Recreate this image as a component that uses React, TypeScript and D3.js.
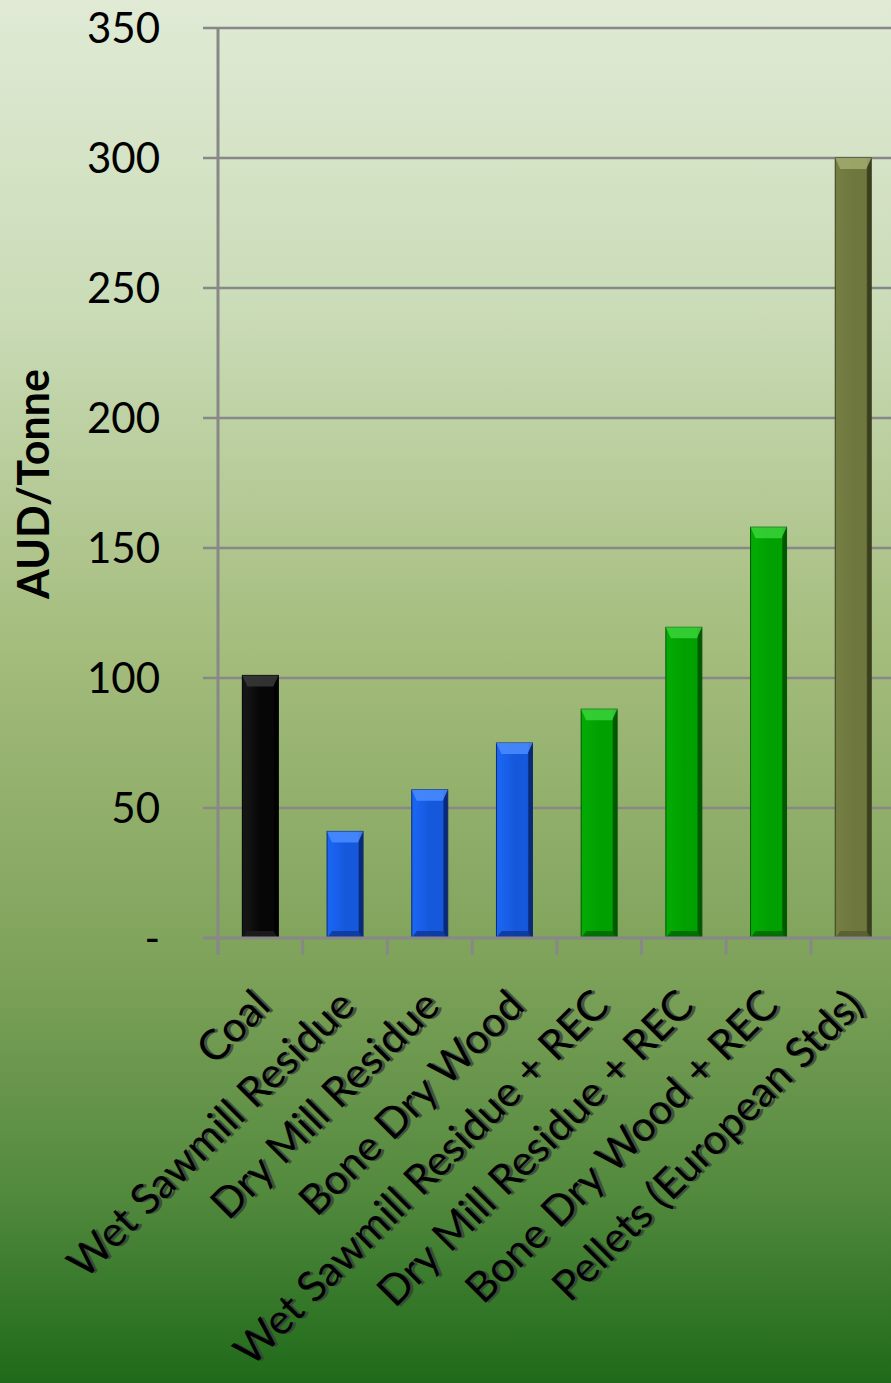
import React from "react";
import * as d3 from "d3";

const categories = [
  "Coal",
  "Wet Sawmill Residue",
  "Dry Mill Residue",
  "Bone Dry Wood",
  "Wet Sawmill Residue + REC",
  "Dry Mill Residue + REC",
  "Bone Dry Wood + REC",
  "Pellets (European Stds)",
];
const values = [101, 41, 57, 75, 88, 119.5, 158, 300];
const colorGroups = ["coal", "blue", "blue", "blue", "green", "green", "green", "olive"];
const yTicks = [0, 50, 100, 150, 200, 250, 300, 350];
const yTickLabels = ["-", "50", "100", "150", "200", "250", "300", "350"];

const W = 891;
const H = 1383;
const plotLeft = 218;
const plotTop = 28;
const plotBottom = 938;
const bandW = 84.7;

const palette: Record<string, { main: string; light: string; dark: string; top: string; bottom: string }> = {
  coal: { main: "#060606", light: "#141414", dark: "#000000", top: "#3a3a3a", bottom: "#1c1c1c" },
  blue: { main: "#1558dc", light: "#1a64f2", dark: "#0a2a78", top: "#4a8cff", bottom: "#0e3a9c" },
  green: { main: "#00a000", light: "#04aa04", dark: "#005800", top: "#3ad43a", bottom: "#006c00" },
  olive: { main: "#6e773e", light: "#747e43", dark: "#3a3f1e", top: "#a3ab6e", bottom: "#585f30" },
};

export default function App() {
  const x = d3
    .scaleBand<string>()
    .domain(categories)
    .range([plotLeft, plotLeft + bandW * categories.length])
    .paddingInner(0.575)
    .paddingOuter(0.2875);
  const y = d3.scaleLinear().domain([0, 350]).range([plotBottom, plotTop]);

  const labelFont = "Lato, 'Open Sans', sans-serif";

  return (
    <svg width={W} height={H} style={{ display: "block", position: "absolute", left: 0, top: 0 }}>
      <defs>
        <linearGradient id="bg" x1="0" y1="0" x2="0" y2="1">
          <stop offset="0" stopColor="#e0ead5" />
          <stop offset="0.22" stopColor="#cbdcb8" />
          <stop offset="0.47" stopColor="#a4bc7c" />
          <stop offset="0.7" stopColor="#7ea25a" />
          <stop offset="0.86" stopColor="#538a3e" />
          <stop offset="1" stopColor="#1f6a1a" />
        </linearGradient>
        {Object.entries(palette).map(([k, p]) => (
          <linearGradient key={k} id={`bar-${k}`} x1="0" y1="0" x2="1" y2="0">
            <stop offset="0" stopColor={p.light} />
            <stop offset="0.12" stopColor={p.light} />
            <stop offset="0.5" stopColor={p.main} />
            <stop offset="0.86" stopColor={p.main} />
            <stop offset="0.9" stopColor={p.dark} />
            <stop offset="1" stopColor={p.dark} />
          </linearGradient>
        ))}
      </defs>
      <rect x={0} y={0} width={W} height={H} fill="url(#bg)" />

      {/* gridlines */}
      {yTicks.map((t) => (
        <line
          key={`g${t}`}
          x1={plotLeft - 15}
          x2={W}
          y1={y(t)}
          y2={y(t)}
          stroke="#888888"
          strokeWidth={2.5}
        />
      ))}
      {/* y axis */}
      <line x1={plotLeft} x2={plotLeft} y1={plotTop} y2={plotBottom + 17} stroke="#888888" strokeWidth={3} />
      {/* x ticks */}
      {categories.map((c, i) => (
        <line
          key={`xt${i}`}
          x1={plotLeft + bandW * i}
          x2={plotLeft + bandW * i}
          y1={plotBottom}
          y2={plotBottom + 17}
          stroke="#888888"
          strokeWidth={3}
        />
      ))}

      {/* bars */}
      {categories.map((c, i) => {
        const x0 = x(c)!;
        const bw = x.bandwidth();
        const y0 = y(values[i]);
        const h = plotBottom - y0;
        const p = palette[colorGroups[i]];
        const bev = 11;
        const ins = 5;
        return (
          <g key={c}>
            <rect x={x0} y={y0} width={bw} height={h} fill={`url(#bar-${colorGroups[i]})`} stroke={p.dark} strokeWidth={1} />
            <polygon
              points={`${x0},${y0} ${x0 + bw},${y0} ${x0 + bw - ins},${y0 + bev} ${x0 + ins},${y0 + bev}`}
              fill={p.top}
              opacity={0.85}
            />
            <polygon
              points={`${x0},${plotBottom} ${x0 + bw},${plotBottom} ${x0 + bw - ins},${plotBottom - 7} ${x0 + ins},${plotBottom - 7}`}
              fill={p.bottom}
              opacity={0.9}
            />
          </g>
        );
      })}

      {/* x axis line */}
      <line x1={plotLeft - 15} x2={W} y1={plotBottom} y2={plotBottom} stroke="#888888" strokeWidth={3} />

      {/* y tick labels */}
      {yTicks.map((t, i) => (
        <text
          key={`yl${t}`}
          x={160}
          y={y(t)}
          dy="0.36em"
          textAnchor="end"
          fontFamily={labelFont}
          fontSize={42}
          fill="#000"
        >
          {yTickLabels[i]}
        </text>
      ))}

      {/* y axis title */}
      <text
        transform={`translate(49,484) rotate(-90)`}
        textAnchor="middle"
        fontFamily={labelFont}
        fontWeight="bold"
        fontSize={43}
        fill="#000"
      >
        AUD/Tonne
      </text>

      {/* category labels */}
      {categories.map((c, i) => {
        const cx = x(c)! + x.bandwidth() / 2;
        const px = cx + 12;
        const py = 1008;
        return (
          <g key={`cl${i}`} transform={`translate(${px},${py}) rotate(-45)`}>
            <text x={2} y={2.5} textAnchor="end" fontFamily={labelFont} fontSize={42} fill="#3a3a3a" opacity={0.75}>
              {c}
            </text>
            <text x={0} y={0} textAnchor="end" fontFamily={labelFont} fontSize={42} fill="#000">
              {c}
            </text>
          </g>
        );
      })}
    </svg>
  );
}
